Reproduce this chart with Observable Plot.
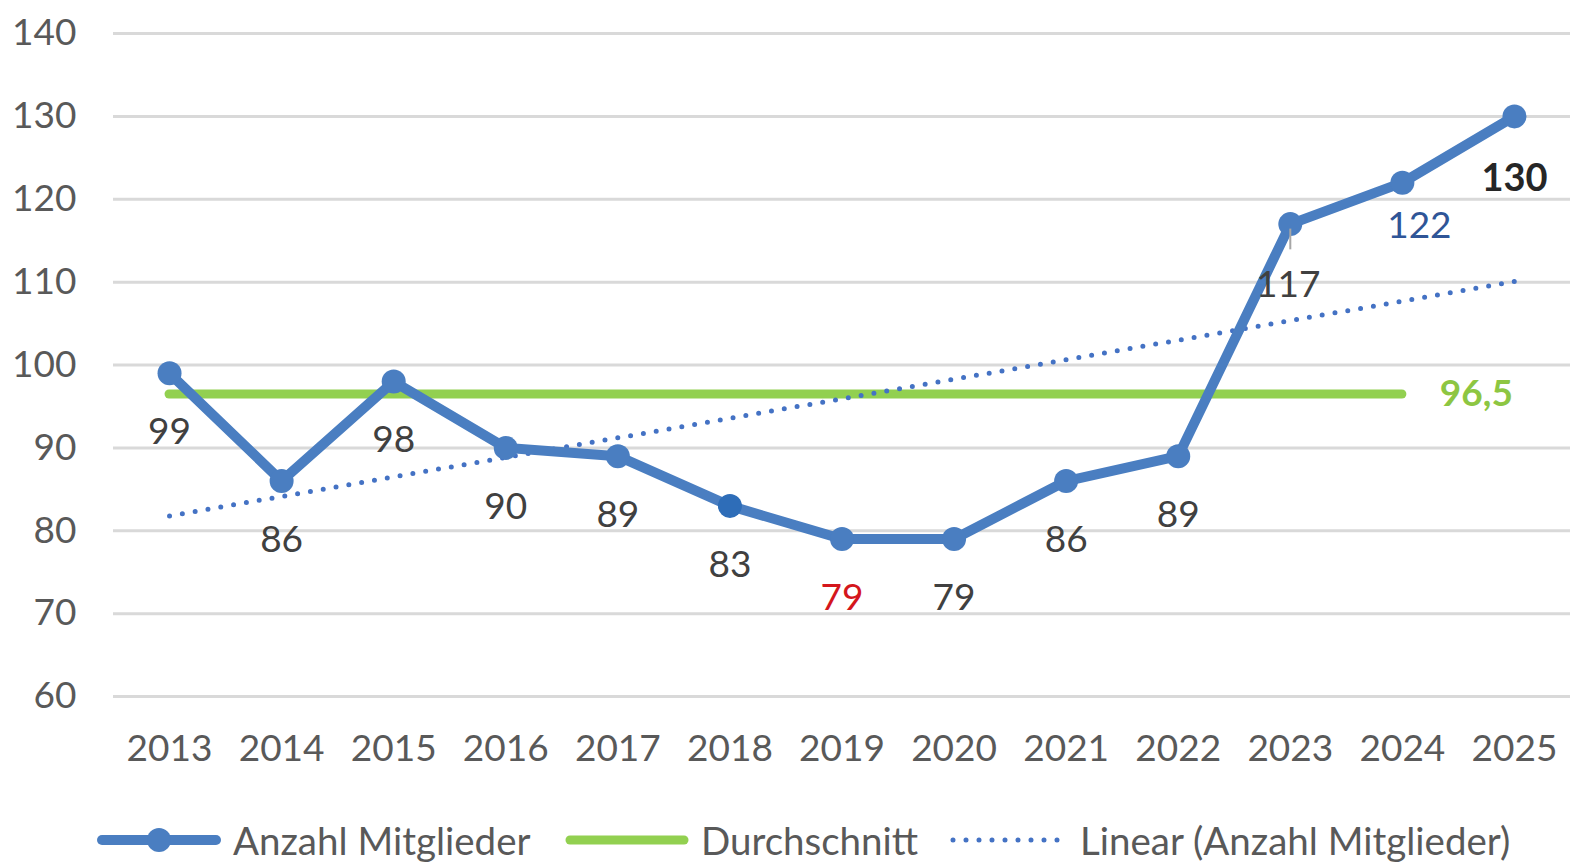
<!DOCTYPE html>
<html>
<head>
<meta charset="utf-8">
<script src="https://cdn.jsdelivr.net/npm/d3@7"></script>
<script src="https://cdn.jsdelivr.net/npm/@observablehq/plot@0.6"></script>
<style>
  html, body { margin: 0; padding: 0; background: #fff; }
  body { width: 1570px; height: 864px; position: relative; overflow: hidden; font-family: Lato, "Open Sans", sans-serif; }
  #chart { position: absolute; left: 0; top: 0; }
  .legend { position: absolute; left: 0; top: 808px; width: 1570px; height: 64px; }
  .item { position: absolute; top: 0; height: 64px; display: flex; align-items: center; font-size: 38.5px; color: #595959; }
  .item svg { display: block; margin-right: 12px; }
</style>
</head>
<body>
<div id="chart"></div>
<div class="legend" id="legend"></div>
<script>
const jahre = [2013, 2014, 2015, 2016, 2017, 2018, 2019, 2020, 2021, 2022, 2023, 2024, 2025];
const mitglieder = [99, 86, 98, 90, 89, 83, 79, 79, 86, 89, 117, 122, 130];
const durchschnitt = 96.5;
const durchschnittLabel = "96,5";
const durchschnittVon = 2013;
const durchschnittBis = 2024;
const yTicks = [60, 70, 80, 90, 100, 110, 120, 130, 140];
const seriesNames = ["Anzahl Mitglieder", "Durchschnitt", "Linear (Anzahl Mitglieder)"];

const blue = "#4A7EC1";
const green = "#92D050";
const trendBlue = "#4472C4";
const labelGray = "#404040";

const data = jahre.map((j, i) => ({jahr: j, wert: mitglieder[i]}));
const normal = data.filter(d => ![2019, 2023, 2024, 2025].includes(d.jahr));
const pick = y => data.filter(d => d.jahr === y);

const chart = Plot.plot({
  width: 1570,
  height: 800,
  marginLeft: 113,
  marginRight: 0,
  marginTop: 33,
  marginBottom: 104,
  style: {fontFamily: "Lato, 'Open Sans', sans-serif", fontSize: "36px", color: "#595959", background: "#fff"},
  x: {type: "linear", domain: [2012.5, 2025.5], label: null},
  y: {type: "linear", domain: [60, 140], label: null},
  marks: [
    Plot.gridY(yTicks, {stroke: "#D9D9D9", strokeWidth: 3, strokeOpacity: 1}),
    Plot.axisX({ticks: jahre, tickFormat: d => String(d), tickSize: 0, tickPadding: 38, fill: "#595959", label: null, fontSize: 37}),
    Plot.axisY({ticks: yTicks, tickSize: 0, tickPadding: 37, fill: "#595959", label: null, fontSize: 37}),
    Plot.ruleY([durchschnitt], {x1: durchschnittVon, x2: durchschnittBis, stroke: green, strokeWidth: 9, strokeLinecap: "round"}),
    Plot.linearRegressionY(data, {x: "jahr", y: "wert", stroke: trendBlue, strokeWidth: 5, strokeDasharray: "0 13", strokeLinecap: "round", ci: 0}),
    Plot.line(data, {x: "jahr", y: "wert", stroke: blue, strokeWidth: 10, strokeLinejoin: "round"}),
    Plot.dot(data, {x: "jahr", y: "wert", r: 12, fill: d => d.jahr === 2018 ? "#2E6DB8" : blue, stroke: "none"}),
    Plot.text(normal, {x: "jahr", y: "wert", text: "wert", dy: 59, fill: labelGray, fontSize: 37}),
    Plot.text(pick(2019), {x: "jahr", y: "wert", text: "wert", dy: 59, fill: "#D4161C", fontSize: 37}),
    Plot.ruleX(pick(2023), {x: "jahr", y1: "wert", y2: d => d.wert - 2.5, dy: 5, stroke: "#A6A6A6", strokeWidth: 2}),
    Plot.text(pick(2023), {x: "jahr", y: "wert", text: "wert", dy: 61, dx: -2, fill: labelGray, fontSize: 37}),
    Plot.text(pick(2024), {x: "jahr", y: "wert", text: "wert", dy: 43, dx: 17, fill: "#2F5597", fontSize: 37}),
    Plot.text(pick(2025), {x: "jahr", y: "wert", text: "wert", dy: 62, fill: "#262626", fontSize: 38, fontWeight: "bold"}),
    Plot.text([durchschnitt], {x: durchschnittBis, y: d => d, text: () => durchschnittLabel, dx: 74, fill: "#8DC642", fontSize: 37, fontWeight: "bold"})
  ]
});
document.getElementById("chart").appendChild(chart);

// legend
const legend = document.getElementById("legend");
const items = [
  {name: seriesNames[0], left: 97, kind: "lineDot"},
  {name: seriesNames[1], left: 565, kind: "line"},
  {name: seriesNames[2], left: 950, kind: "dots"}
];
for (const it of items) {
  const div = document.createElement("div");
  div.className = "item";
  div.style.left = it.left + "px";
  const w = it.kind === "dots" ? 118 : 124;
  let sw = `<svg width="${w}" height="30" viewBox="0 0 ${w} 30">`;
  if (it.kind === "lineDot") {
    sw += `<line x1="5" y1="15" x2="${w-5}" y2="15" stroke="${blue}" stroke-width="10" stroke-linecap="round"/><circle cx="${w/2}" cy="15" r="12" fill="${blue}"/>`;
  } else if (it.kind === "line") {
    sw += `<line x1="5" y1="15" x2="${w-5}" y2="15" stroke="${green}" stroke-width="9" stroke-linecap="round"/>`;
  } else {
    sw += `<line x1="3" y1="15" x2="${w-3}" y2="15" stroke="${trendBlue}" stroke-width="5" stroke-dasharray="0 13" stroke-linecap="round"/>`;
  }
  sw += `</svg>`;
  div.innerHTML = sw + `<span>${it.name}</span>`;
  legend.appendChild(div);
}
</script>
</body>
</html>
